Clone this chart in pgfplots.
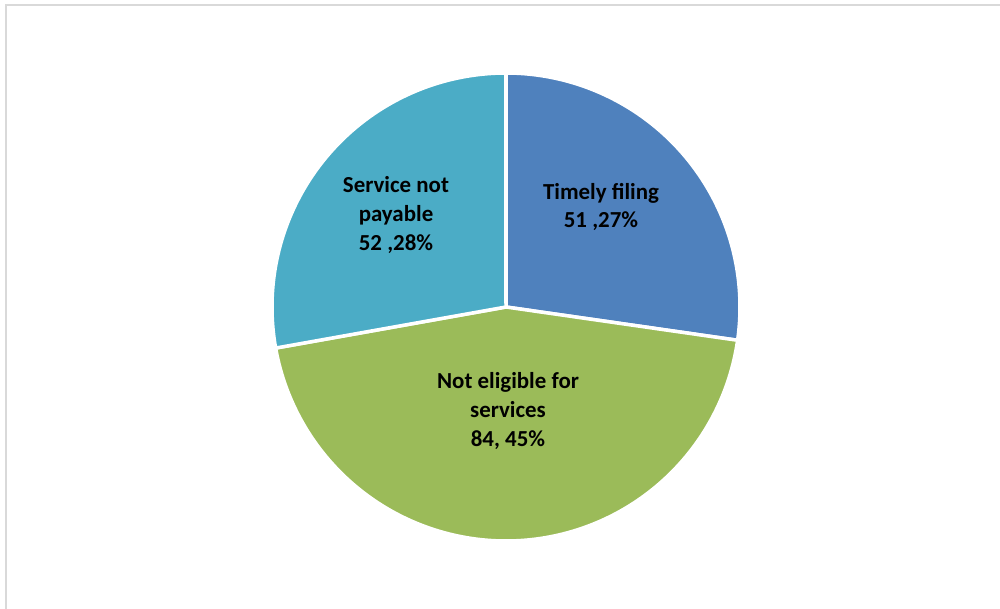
\documentclass[border=0pt]{standalone}
\usepackage{pgfplots}
\usepackage{pgfplotstable}
\usepackage{fontspec}
\setmainfont{Carlito}
\pgfplotsset{compat=1.18}
\definecolor{cTimely}{HTML}{4F81BD}
\definecolor{cNot}{HTML}{9BBB59}
\definecolor{cServ}{HTML}{4BACC6}
\definecolor{cFrame}{HTML}{D9D9D9}
\pgfplotstableread{
label value
Timely 51
NotEligible 84
Service 52
}\piedata
\begin{document}
\begin{tikzpicture}
\pgfplotstablegetelem{0}{value}\of\piedata\let\va\pgfplotsretval
\pgfplotstablegetelem{1}{value}\of\piedata\let\vb\pgfplotsretval
\pgfplotstablegetelem{2}{value}\of\piedata\let\vc\pgfplotsretval
\pgfmathsetmacro{\tot}{\va+\vb+\vc}
\pgfmathsetmacro{\aA}{90}
\pgfmathsetmacro{\aB}{90-360*(\va/\tot)}
\pgfmathsetmacro{\aC}{\aB-360*(\vb/\tot)}
\pgfmathsetmacro{\aD}{\aC-360*(\vc/\tot)}
\begin{axis}[
  at={(0,0)}, anchor=south west,
  scale only axis, width=1000bp, height=609bp,
  xmin=0, xmax=1000, ymin=0, ymax=609,
  hide axis, clip=false,
]
\draw[cFrame, line width=2bp] (axis cs:6,0) -- (axis cs:6,604) -- (axis cs:1000,604);
\addplot[fill=cTimely, draw=white, line width=3.5bp, line join=round, domain=\aB:\aA, samples=120, variable=\t]
  ({506+234*cos(t)},{302+234*sin(t)}) -- (axis cs:506,302) -- cycle;
\addplot[fill=cNot, draw=white, line width=3.5bp, line join=round, domain=\aC:\aB, samples=160, variable=\t]
  ({506+234*cos(t)},{302+234*sin(t)}) -- (axis cs:506,302) -- cycle;
\addplot[fill=cServ, draw=white, line width=3.5bp, line join=round, domain=\aD:\aC, samples=120, variable=\t]
  ({506+234*cos(t)},{302+234*sin(t)}) -- (axis cs:506,302) -- cycle;
\node[align=center, font=\fontsize{23}{29}\selectfont\bfseries] at (axis cs:601,402) {Timely filing\\51 ,27\%};
\node[align=center, font=\fontsize{23}{29}\selectfont\bfseries] at (axis cs:396,394) {Service not\\payable\\52 ,28\%};
\node[align=center, font=\fontsize{23}{29}\selectfont\bfseries] at (axis cs:508,198) {Not eligible for\\services\\84, 45\%};
\end{axis}
\pgfresetboundingbox
\path[use as bounding box] (0,0) rectangle (1000bp,609bp);
\end{tikzpicture}
\end{document}
